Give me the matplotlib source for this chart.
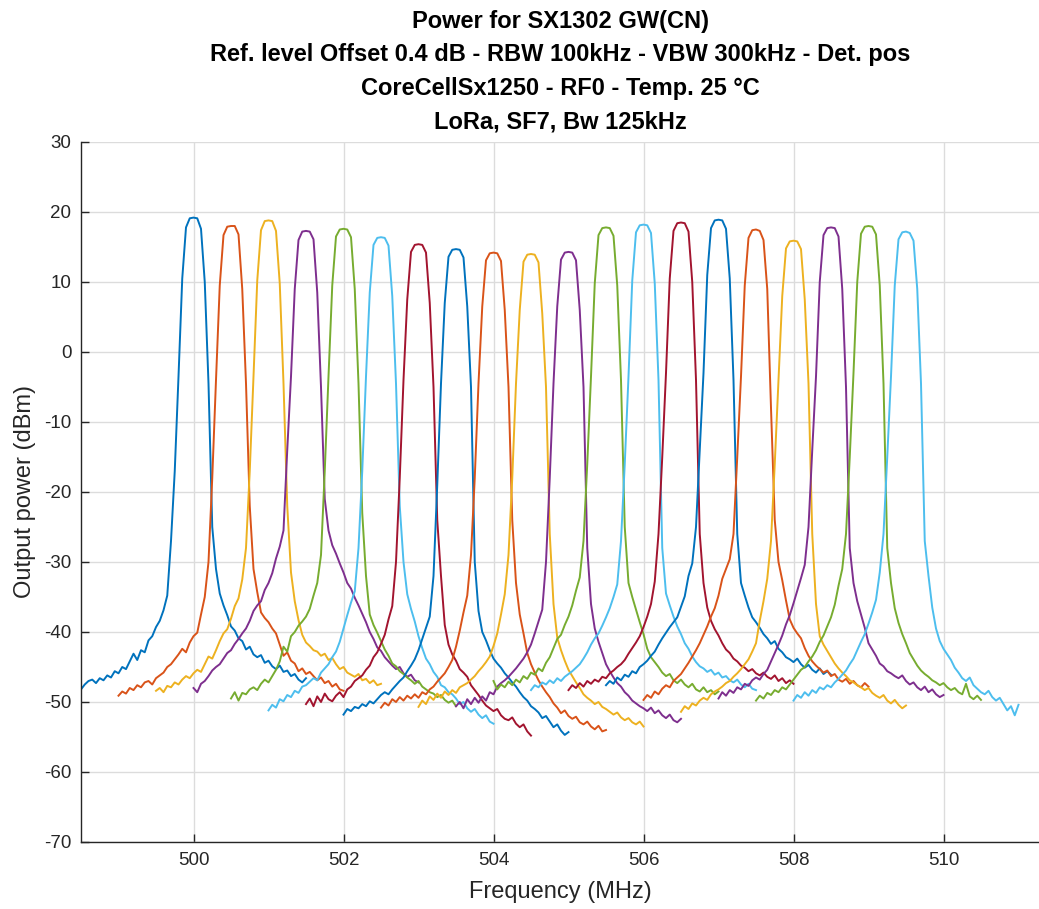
import numpy as np
import matplotlib
matplotlib.use("Agg")
import matplotlib.pyplot as plt

plt.rcParams['font.family'] = ['Liberation Sans', 'DejaVu Sans']
plt.rcParams['axes.unicode_minus'] = False

# channel centre frequencies (MHz)
centers = [500.0, 500.5, 501.0, 501.5, 502.0, 502.5, 503.0, 503.5, 504.0, 504.5,
           505.0, 505.5, 506.0, 506.5, 507.0, 507.5, 508.0, 508.5, 509.0, 509.5]

# frequency offset of each sweep point from the channel centre (MHz)
offsets = [-1.5, -1.45, -1.4, -1.35, -1.3, -1.25, -1.2, -1.15, -1.1, -1.05,
           -1.0, -0.95, -0.9, -0.85, -0.8, -0.75, -0.7, -0.65, -0.6, -0.55,
           -0.5, -0.45, -0.4, -0.35,
           -0.3, -0.25, -0.2, -0.15, -0.1, -0.05, 0.0, 0.05, 0.1, 0.15, 0.2, 0.25, 0.3,
           0.35, 0.4, 0.45, 0.5, 0.55, 0.6, 0.65, 0.7, 0.75, 0.8,
           0.85, 0.9, 0.95, 1.0, 1.05, 1.1, 1.15, 1.2, 1.25, 1.3,
           1.35, 1.4, 1.45, 1.5]

# measured output power per channel (dBm)
p500 = [-48.2, -47.5, -47.0, -46.8, -47.3, -46.6, -46.9, -46.2, -46.5, -45.6, -45.9, -45.0,
        -45.3, -44.2, -43.1, -44.0, -42.6, -42.9, -41.2, -40.6, -39.3, -38.4, -36.9, -34.8,
        -27.0, -17.0, -3.5, 10.5, 17.8, 19.1, 19.2, 19.1, 17.6, 10.0, -4.5, -25.0, -31.0,
        -34.5, -36.2, -37.6, -39.2, -39.8, -40.9, -41.3, -42.5, -42.1, -43.2, -43.6, -43.3,
        -44.4, -44.1, -44.9, -45.3, -44.8, -45.7, -45.5, -46.3, -46.0, -46.8, -47.2, -46.6]
p500_5 = [-49.1, -48.5, -48.8, -48.0, -48.3, -47.6, -47.9, -47.2, -47.0, -47.5, -46.6, -46.2,
          -45.8, -45.0, -44.6, -43.9, -43.2, -42.4, -42.9, -41.5, -40.6, -40.1, -37.5, -35.0,
          -30.0, -18.0, -4.0, 9.5, 16.7, 17.9, 18.0, 18.0, 16.8, 9.0, -4.5, -22.0, -31.0,
          -34.3, -37.2, -38.0, -38.6, -39.5, -40.2, -41.8, -43.4, -42.9, -44.1, -44.5, -45.6,
          -45.2, -46.0, -45.7, -46.3, -46.9, -46.5, -47.3, -47.0, -47.8, -47.4, -48.2, -48.4]
p501 = [-48.4, -48.0, -48.6, -47.7, -47.9, -47.2, -47.5, -46.8, -46.3, -46.6, -45.9, -45.4,
        -45.7, -44.6, -43.5, -43.8, -42.6, -41.3, -40.2, -39.6, -38.1, -36.3, -35.2, -32.5,
        -28.0, -17.0, -3.5, 10.2, 17.4, 18.7, 18.8, 18.7, 17.3, 9.8, -4.5, -22.0, -31.5,
        -35.6, -38.3, -40.4, -41.5, -42.0, -42.6, -42.8, -43.4, -43.1, -44.0, -43.7, -44.6,
        -45.3, -45.0, -45.8, -46.1, -46.4, -46.0, -46.9, -46.7, -47.3, -46.9, -47.6, -47.4]
p501_5 = [-48.0, -48.6, -47.4, -47.0, -46.3, -45.5, -45.0, -44.6, -43.8, -43.0, -42.6, -41.7,
          -41.0, -40.2, -39.5, -38.4, -37.0, -36.2, -35.6, -34.0, -33.0, -31.6, -29.5, -27.8,
          -25.5, -14.0, -3.5, 9.0, 16.0, 17.2, 17.3, 17.2, 16.1, 8.5, -5.0, -21.0, -25.5,
          -27.6, -28.8, -30.2, -31.5, -33.0, -33.8, -35.1, -36.2, -37.4, -38.6, -40.0, -41.0,
          -42.2, -42.7, -43.6, -44.2, -44.8, -45.3, -45.0, -45.9, -46.4, -46.1, -46.9, -47.2]
p502 = [-49.5, -48.6, -49.8, -48.7, -48.9, -48.2, -47.9, -48.3, -47.4, -46.8, -47.2, -46.3,
        -45.4, -44.2, -42.1, -42.8, -40.6, -40.0, -39.1, -38.5, -37.8, -36.7, -34.8, -33.0,
        -29.0, -17.0, -3.5, 9.5, 16.5, 17.5, 17.6, 17.5, 16.4, 9.0, -4.5, -23.0, -32.0,
        -37.5, -39.0, -40.1, -41.3, -42.5, -43.4, -44.5, -44.9, -45.6, -46.0, -46.5, -46.9,
        -47.4, -47.0, -47.8, -48.2, -48.6, -48.8, -49.3, -49.0, -49.7, -50.1, -49.8, -50.6]
p502_5 = [-51.2, -50.4, -50.8, -49.6, -49.9, -49.0, -49.3, -48.4, -48.7, -47.8, -47.6, -47.1,
          -46.6, -46.9, -45.8, -45.2, -44.6, -43.6, -42.8, -41.4, -39.5, -37.6, -35.8, -34.2,
          -28.0, -17.0, -3.5, 8.5, 15.3, 16.3, 16.4, 16.3, 15.2, 8.0, -4.5, -22.0, -30.0,
          -34.6, -36.7, -38.5, -40.6, -42.3, -43.8, -44.6, -45.7, -46.4, -47.6, -47.9, -48.6,
          -48.9, -49.5, -50.3, -50.0, -50.9, -51.4, -51.0, -51.8, -52.3, -51.9, -52.8, -53.1]
p503 = [-50.3, -49.5, -50.6, -49.2, -50.0, -48.8, -49.6, -49.9, -49.1, -48.6, -49.3, -48.2,
        -47.8, -47.0, -46.6, -46.2, -45.4, -44.8, -43.6, -42.9, -41.7, -40.4, -38.2, -36.3,
        -30.0, -18.0, -4.0, 7.5, 14.3, 15.3, 15.4, 15.3, 14.2, 7.0, -5.0, -24.0, -32.0,
        -39.0, -41.8, -43.2, -44.1, -45.3, -45.8, -46.4, -47.6, -48.3, -49.0, -49.8, -50.5,
        -50.9, -51.3, -51.0, -51.9, -52.4, -52.6, -52.2, -53.1, -53.6, -53.2, -54.2, -54.8]
p503_5 = [-51.8, -51.0, -51.3, -50.7, -50.9, -50.3, -50.6, -49.9, -50.2, -49.6, -49.0, -48.6,
          -48.9, -48.2, -47.6, -47.0, -46.5, -45.6, -44.8, -43.9, -42.6, -41.0, -39.4, -37.8,
          -32.0, -19.0, -4.5, 7.0, 13.6, 14.6, 14.7, 14.6, 13.5, 6.5, -5.0, -30.0, -37.0,
          -40.0, -41.2, -42.6, -43.8, -44.5, -45.1, -45.9, -46.5, -47.2, -47.8, -48.6, -49.3,
          -49.8, -50.6, -51.0, -51.5, -52.3, -52.0, -52.8, -53.6, -53.2, -54.1, -54.7, -54.3]
p504 = [-50.8, -50.1, -50.5, -49.6, -50.0, -49.3, -49.8, -49.1, -49.5, -48.9, -49.4, -48.6,
        -48.9, -48.2, -47.8, -47.1, -46.5, -45.9, -45.0, -44.0, -42.1, -39.8, -37.2, -34.8,
        -29.0, -18.0, -4.5, 6.5, 13.1, 14.1, 14.2, 14.1, 13.0, 6.0, -5.0, -24.0, -33.0,
        -37.5, -40.2, -43.0, -44.6, -45.8, -46.9, -47.8, -48.6, -49.3, -50.2, -50.8, -51.6,
        -51.2, -52.0, -52.4, -52.1, -52.9, -53.2, -52.8, -53.5, -53.9, -53.4, -54.2, -54.0]
p504_5 = [-50.7, -49.8, -50.3, -49.2, -49.7, -48.8, -49.4, -48.5, -49.0, -48.3, -48.7, -47.9,
          -47.6, -47.3, -46.8, -46.3, -45.6, -45.0, -44.3, -43.5, -42.0, -40.2, -37.5, -34.6,
          -29.0, -18.0, -4.5, 6.0, 12.9, 13.9, 14.0, 13.9, 12.8, 5.5, -5.0, -26.0, -36.0,
          -40.8, -42.6, -44.1, -45.4, -46.3, -47.2, -48.0, -48.9, -49.4, -49.8, -50.3, -50.0,
          -50.7, -51.0, -51.4, -51.8, -51.5, -52.2, -52.6, -52.3, -52.9, -53.2, -52.8, -53.5]
p505 = [-50.6, -50.0, -50.9, -49.6, -50.3, -49.4, -50.1, -49.2, -49.8, -48.6, -48.9, -47.8,
        -47.3, -46.9, -46.4, -45.8, -45.2, -44.5, -43.8, -42.9, -41.8, -40.2, -38.5, -36.8,
        -30.0, -18.0, -4.5, 6.5, 13.2, 14.2, 14.3, 14.2, 13.1, 6.0, -5.0, -28.0, -36.0,
        -39.5, -41.4, -43.0, -44.6, -45.6, -46.5, -47.3, -47.8, -48.6, -49.1, -49.8, -50.2,
        -50.6, -50.9, -51.3, -50.8, -51.6, -51.2, -51.9, -52.3, -51.8, -52.6, -52.9, -52.4]
p505_5 = [-47.0, -48.2, -47.5, -47.9, -47.1, -47.6, -46.8, -47.2, -46.3, -46.7, -45.8, -46.1,
          -45.2, -45.6, -44.4, -43.6, -42.3, -41.0, -40.4, -39.0, -37.8, -36.2, -34.1, -32.2,
          -27.0, -16.0, -3.5, 9.8, 16.7, 17.7, 17.8, 17.7, 16.6, 9.5, -4.0, -25.0, -33.0,
          -35.0, -36.8, -38.6, -40.3, -42.4, -43.6, -44.3, -45.0, -45.8, -46.3, -46.0, -46.9,
          -47.3, -46.8, -47.5, -47.9, -47.4, -48.2, -48.5, -47.9, -48.6, -48.3, -48.9, -48.5]
p506 = [-48.3, -47.6, -47.9, -47.2, -47.5, -46.9, -47.3, -46.6, -47.0, -46.4, -46.0, -45.6,
        -45.1, -44.6, -43.8, -42.9, -41.8, -40.9, -40.2, -39.1, -37.9, -36.6, -35.0, -33.2,
        -27.0, -16.0, -3.5, 10.2, 17.1, 18.1, 18.2, 18.1, 17.0, 9.8, -4.0, -28.0, -34.5,
        -36.2, -37.8, -39.2, -40.3, -41.6, -42.4, -43.5, -44.3, -44.9, -45.2, -45.7, -45.4,
        -46.1, -45.8, -46.5, -46.3, -46.9, -47.2, -46.8, -47.5, -47.9, -47.4, -48.1, -48.3]
p506_5 = [-48.3, -47.6, -48.0, -47.3, -47.8, -47.0, -47.4, -46.8, -47.1, -46.4, -46.6, -45.9,
          -45.5, -45.0, -44.6, -44.0, -43.1, -42.3, -41.5, -40.6, -39.3, -37.8, -36.0, -32.8,
          -26.0, -15.0, -3.0, 10.5, 17.3, 18.4, 18.5, 18.4, 17.2, 10.0, -4.0, -26.0, -33.0,
          -36.5, -38.4, -39.6, -40.5, -41.6, -42.5, -43.0, -43.8, -44.2, -44.8, -45.1, -45.6,
          -45.3, -45.9, -46.2, -45.8, -46.4, -46.7, -46.2, -47.0, -46.6, -47.3, -46.9, -47.4]
p507 = [-47.6, -47.0, -47.4, -46.5, -46.9, -46.1, -46.4, -45.6, -45.9, -45.0, -44.6, -44.1,
        -43.4, -42.8, -41.8, -40.9, -40.1, -39.3, -38.6, -37.9, -36.4, -34.9, -32.0, -30.2,
        -25.0, -14.0, -3.0, 11.0, 17.7, 18.8, 18.9, 18.8, 17.6, 10.5, -4.0, -26.0, -33.0,
        -34.8, -36.5, -37.9, -38.6, -39.4, -40.3, -40.9, -41.7, -41.3, -42.4, -42.9, -43.6,
        -43.9, -44.3, -43.8, -44.6, -45.1, -44.7, -45.4, -45.8, -45.2, -46.0, -45.6, -46.1]
p507_5 = [-49.7, -49.0, -49.4, -48.5, -48.9, -48.1, -47.6, -47.9, -47.0, -46.5, -46.0, -45.2,
          -44.4, -43.5, -42.6, -41.6, -40.4, -39.2, -37.8, -36.6, -34.8, -32.4, -31.0, -29.6,
          -26.0, -15.0, -3.5, 9.5, 16.3, 17.4, 17.5, 17.3, 16.0, 9.0, -8.0, -24.0, -30.0,
          -32.6, -35.5, -38.2, -39.4, -40.2, -40.9, -42.3, -43.4, -44.2, -44.8, -45.3, -45.8,
          -45.5, -46.3, -46.0, -46.8, -47.1, -46.7, -47.4, -47.0, -47.6, -47.9, -47.3, -47.8]
p508 = [-51.4, -50.6, -51.0, -50.2, -50.5, -49.8, -49.4, -49.7, -48.9, -48.5, -48.2, -47.8,
        -47.3, -47.0, -46.4, -45.9, -45.3, -44.6, -43.9, -42.8, -41.6, -38.4, -35.6, -32.4,
        -27.0, -16.0, -4.0, 8.0, 14.8, 15.8, 15.9, 15.8, 14.7, 7.5, -4.5, -26.0, -36.0,
        -40.6, -41.8, -42.7, -43.6, -44.5, -45.2, -45.8, -46.3, -46.9, -47.2, -47.6, -47.9,
        -48.3, -48.0, -48.7, -49.1, -49.4, -49.0, -49.8, -50.2, -49.7, -50.4, -50.9, -50.5]
p508_5 = [-49.5, -48.6, -49.1, -48.3, -48.7, -47.9, -48.2, -47.4, -47.7, -46.9, -46.5, -46.8,
          -46.0, -45.4, -44.2, -43.0, -41.8, -40.5, -38.9, -37.6, -35.9, -34.1, -32.3, -30.4,
          -25.0, -14.0, -3.5, 10.0, 16.7, 17.7, 17.8, 17.7, 16.5, 9.0, -5.0, -28.0, -33.0,
          -35.6, -37.5, -39.4, -41.6, -42.5, -43.4, -44.5, -44.9, -45.6, -45.9, -46.3, -46.6,
          -46.2, -47.0, -47.5, -47.2, -47.9, -48.3, -47.8, -48.6, -48.2, -48.9, -49.3, -49.0]
p509 = [-49.8, -49.1, -49.5, -48.7, -49.0, -48.3, -48.6, -47.9, -48.2, -47.5, -46.8, -46.1,
        -45.4, -45.0, -44.2, -43.5, -42.6, -41.4, -40.5, -39.2, -37.9, -36.1, -33.4, -31.0,
        -26.0, -15.0, -3.0, 10.0, 16.9, 17.9, 18.0, 17.9, 16.8, 9.5, -4.5, -28.0, -33.0,
        -36.6, -38.7, -40.3, -41.6, -43.0, -43.9, -44.8, -45.5, -46.0, -46.4, -46.9, -47.2,
        -47.6, -47.3, -47.9, -48.3, -48.0, -48.6, -48.9, -47.4, -49.2, -49.6, -49.1, -49.7]
p509_5 = [-49.8, -49.0, -49.4, -48.6, -49.1, -48.3, -48.7, -47.9, -48.2, -47.6, -47.9, -47.2,
          -46.7, -46.1, -45.5, -44.6, -43.8, -42.6, -41.4, -40.3, -38.8, -37.2, -35.4, -31.5,
          -26.0, -15.0, -3.5, 9.5, 16.1, 17.1, 17.2, 17.0, 15.9, 9.0, -4.5, -27.0, -32.0,
          -36.5, -39.5, -41.3, -42.4, -43.2, -44.0, -45.1, -45.8, -46.6, -47.0, -46.5, -47.6,
          -48.1, -48.6, -48.9, -48.4, -49.3, -49.8, -49.4, -50.3, -51.2, -50.6, -51.9, -50.4]

traces = [p500, p500_5, p501, p501_5, p502, p502_5, p503, p503_5, p504, p504_5,
          p505, p505_5, p506, p506_5, p507, p507_5, p508, p508_5, p509, p509_5]

# MATLAB default colour order
matlab_colors = ['#0072BD', '#D95319', '#EDB120', '#7E2F8E', '#77AC30', '#4DBEEE', '#A2142F']

fig = plt.figure(figsize=(10.39, 9.09), dpi=100)
ax = fig.add_axes([81 / 1039, 67 / 909, 958 / 1039, 700 / 909])

off = np.array(offsets)
for i, (fc, pw) in enumerate(zip(centers, traces)):
    ax.plot(fc + off, pw, color=matlab_colors[i % 7], linewidth=1.4)

ax.set_xlim(498.5, 498.5 + 958 / 75)
ax.set_ylim(-70, 30)
ax.set_xticks([500, 502, 504, 506, 508, 510])
ax.set_yticks(np.arange(-70, 31, 10))

ax.grid(True, color='#dcdcdc', linewidth=1.0)
ax.set_axisbelow(True)
for s in ['top', 'right']:
    ax.spines[s].set_visible(False)
for s in ['left', 'bottom']:
    ax.spines[s].set_color('#262626')
    ax.spines[s].set_linewidth(1.0)
ax.tick_params(direction='in', length=6, width=1.0, colors='#262626', labelsize=13.5, pad=7)

ax.set_xlabel('Frequency (MHz)', fontsize=17, color='#262626', labelpad=9)
ax.set_ylabel('Output power (dBm)', fontsize=17, color='#262626', labelpad=6)
ax.set_title('Power for SX1302 GW(CN)\n'
             'Ref. level Offset 0.4 dB - RBW 100kHz - VBW 300kHz - Det. pos\n'
             'CoreCellSx1250 - RF0 - Temp. 25 \u00b0C\n'
             'LoRa, SF7, Bw 125kHz',
             fontsize=17, fontweight='bold', linespacing=1.58, pad=10)

fig.savefig('out.png', dpi=100)
